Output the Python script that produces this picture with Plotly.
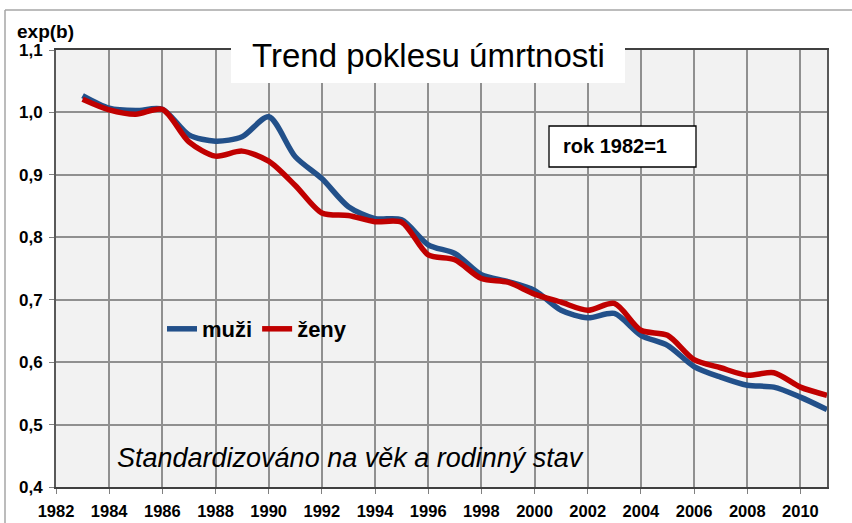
import plotly.graph_objects as go

years = list(range(1983, 2012))
muzi = [1.027, 1.007, 1.003, 1.005, 0.964, 0.954, 0.961, 0.993, 0.929, 0.894,
        0.849, 0.830, 0.828, 0.788, 0.774, 0.740, 0.729, 0.715, 0.683, 0.671,
        0.678, 0.643, 0.627, 0.593, 0.576, 0.563, 0.560, 0.544, 0.524]
zeny = [1.021, 1.004, 0.997, 1.005, 0.953, 0.930, 0.938, 0.922, 0.883, 0.839,
        0.835, 0.825, 0.824, 0.772, 0.764, 0.734, 0.728, 0.709, 0.696, 0.683,
        0.694, 0.651, 0.643, 0.604, 0.591, 0.579, 0.583, 0.560, 0.547]
x_ticks = list(range(1982, 2011, 2))
y_ticks = [0.4, 0.5, 0.6, 0.7, 0.8, 0.9, 1.0, 1.1]
y_labels = ["0,4", "0,5", "0,6", "0,7", "0,8", "0,9", "1,0", "1,1"]

W, H = 852, 523
L, R, T, B = 56, 25, 50, 36
PW, PH = W - L - R, H - T - B

def px(x):
    return (x - L) / PW

def py(y):
    return (H - B - y) / PH

FONT = "Liberation Sans, Arial, sans-serif"

fig = go.Figure()
fig.add_trace(go.Scatter(x=years, y=muzi, name="<b>muži</b>", mode="lines",
                         line=dict(color="#22508a", width=5.5, shape="spline", smoothing=0.8)))
fig.add_trace(go.Scatter(x=years, y=zeny, name="<b>ženy</b>", mode="lines",
                         line=dict(color="#c00000", width=5.5, shape="spline", smoothing=0.8)))

fig.update_layout(
    width=W, height=H,
    margin=dict(l=L, r=R, t=T, b=B, pad=0, autoexpand=False),
    paper_bgcolor="white",
    plot_bgcolor="#f2f2f2",
    font=dict(family=FONT, color="black"),
    showlegend=True,
    legend=dict(orientation="h", x=px(162), y=py(308), xanchor="left", yanchor="top",
                bgcolor="rgba(0,0,0,0)", font=dict(size=22, family=FONT, color="black"),
                itemwidth=30, tracegroupgap=0),
    xaxis=dict(range=[1982, 2011], tickmode="array", tickvals=x_ticks,
               ticktext=["<b>%d</b>" % v for v in x_ticks],
               showgrid=True, gridcolor="#909090", gridwidth=1.5,
               showline=True, linecolor="#404040", linewidth=2, mirror=True,
               ticks="outside", ticklen=5, tickcolor="#808080", ticklabelstandoff=3,
               tickfont=dict(size=16.5, family=FONT, color="black"), zeroline=False),
    yaxis=dict(range=[0.4, 1.1], tickmode="array", tickvals=y_ticks,
               ticktext=["<b>%s</b>" % s for s in y_labels],
               showgrid=True, gridcolor="#909090", gridwidth=1.5,
               showline=True, linecolor="#595959", linewidth=2, mirror=True,
               ticks="outside", ticklen=5, tickcolor="#808080", ticklabelstandoff=3,
               tickfont=dict(size=17, family=FONT, color="black"), zeroline=False),
)

shapes = [
    # outer chart border (left and top)
    dict(type="line", xref="paper", yref="paper", x0=px(5), x1=px(5), y0=py(10), y1=py(523),
         line=dict(color="#a6a6a6", width=1.5)),
    dict(type="line", xref="paper", yref="paper", x0=px(5), x1=px(852), y0=py(10), y1=py(10),
         line=dict(color="#a6a6a6", width=1.5)),
    # title box
    dict(type="rect", xref="paper", yref="paper", x0=px(231), x1=px(625), y0=py(30), y1=py(83),
         fillcolor="white", line=dict(width=0), layer="above"),
    # rok 1982=1 box
    dict(type="rect", xref="paper", yref="paper", x0=px(549), x1=px(696), y0=py(126), y1=py(167),
         fillcolor="white", line=dict(color="black", width=1.3), layer="above"),
]
fig.update_layout(shapes=shapes)

annotations = [
    dict(text="Trend poklesu úmrtnosti", xref="paper", yref="paper", x=px(428), y=py(56),
         xanchor="center", yanchor="middle", showarrow=False,
         font=dict(size=33, family=FONT, color="black")),
    dict(text="<b>rok 1982=1</b>", xref="paper", yref="paper", x=px(561), y=py(146),
         xanchor="left", yanchor="middle", showarrow=False,
         font=dict(size=20, family=FONT, color="black")),
    dict(text="<b>exp(b)</b>", xref="paper", yref="paper", x=px(15), y=py(31),
         xanchor="left", yanchor="middle", showarrow=False,
         font=dict(size=19, family=FONT, color="black")),
    dict(text="<i>Standardizováno na věk a rodinný stav</i>", xref="paper", yref="paper",
         x=px(115), y=py(458), xanchor="left", yanchor="middle", showarrow=False,
         font=dict(size=27, family=FONT, color="black")),
]
fig.update_layout(annotations=annotations)

fig.write_html("out.html", config={"displayModeBar": False},
               post_script="document.body.style.margin='0px';")
